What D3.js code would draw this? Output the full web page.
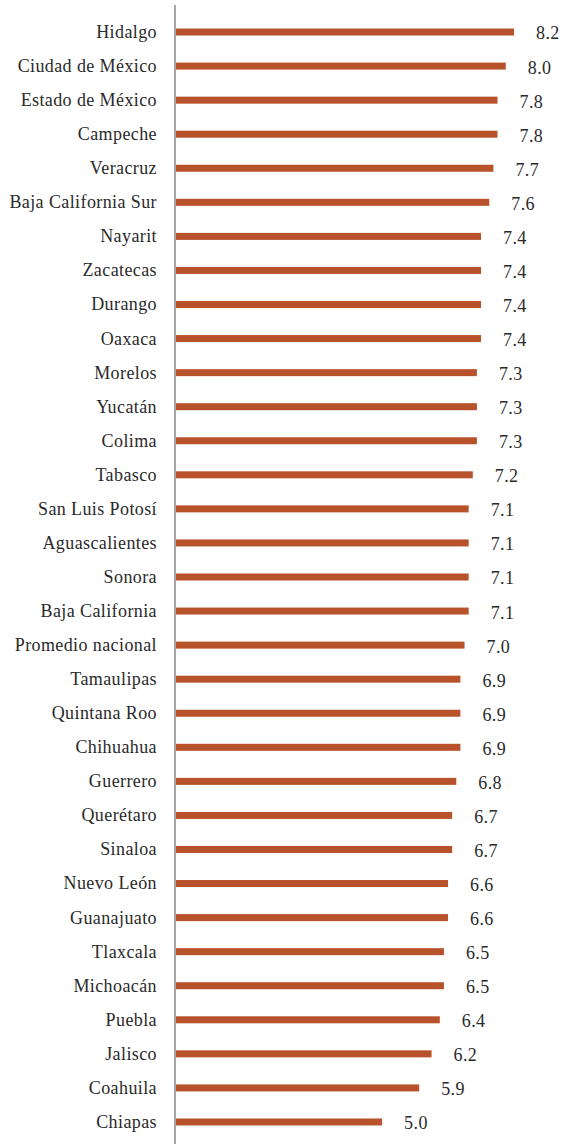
<!DOCTYPE html>
<html><head><meta charset="utf-8">
<script src="https://cdn.jsdelivr.net/npm/d3@7"></script>
<style>body{margin:0;background:#fff;font-family:"Liberation Serif",serif}svg{display:block}</style>
</head><body><svg id="c" width="563" height="1144" font-family="Liberation Serif" font-size="18"></svg>
<script>
const categories = ["Hidalgo","Ciudad de México","Estado de México","Campeche","Veracruz","Baja California Sur","Nayarit","Zacatecas","Durango","Oaxaca","Morelos","Yucatán","Colima","Tabasco","San Luis Potosí","Aguascalientes","Sonora","Baja California","Promedio nacional","Tamaulipas","Quintana Roo","Chihuahua","Guerrero","Querétaro","Sinaloa","Nuevo León","Guanajuato","Tlaxcala","Michoacán","Puebla","Jalisco","Coahuila","Chiapas"];
const values = [8.2,8.0,7.8,7.8,7.7,7.6,7.4,7.4,7.4,7.4,7.3,7.3,7.3,7.2,7.1,7.1,7.1,7.1,7.0,6.9,6.9,6.9,6.8,6.7,6.7,6.6,6.6,6.5,6.5,6.4,6.2,5.9,5.0];

const svg = d3.select("#c");
const x = d3.scaleLinear().domain([0, 8.2]).range([176, 514]);
const y = d3.scaleBand().domain(categories).range([15, 1139]).paddingInner(0.8).paddingOuter(0.4);

svg.append("g").selectAll("rect").data(categories).join("rect")
  .attr("x", x(0)).attr("y", d => y(d) + y.bandwidth()/2 - 3.5)
  .attr("width", (d,i) => x(values[i]) - x(0)).attr("height", 7)
  .attr("fill", "#B8522B");

svg.append("line").attr("x1",175).attr("x2",175).attr("y1",5).attr("y2",1144)
  .attr("stroke","#A6A6A6").attr("stroke-width",2);

svg.append("g").selectAll("text").data(categories).join("text")
  .attr("x", 157).attr("y", d => y(d) + y.bandwidth()/2)
  .attr("dy","0.33em").attr("text-anchor","end")
  .attr("fill","#2a2a2a").attr("letter-spacing", 0.4)
  .text(d => d);

svg.append("g").selectAll("text").data(categories).join("text")
  .attr("x", (d,i) => x(values[i]) + 22).attr("y", d => y(d) + y.bandwidth()/2 + 1.5)
  .attr("dy","0.33em")
  .attr("fill","#2a2a2a").attr("letter-spacing", 0.4)
  .text((d,i) => d3.format(".1f")(values[i]));
</script></body></html>
